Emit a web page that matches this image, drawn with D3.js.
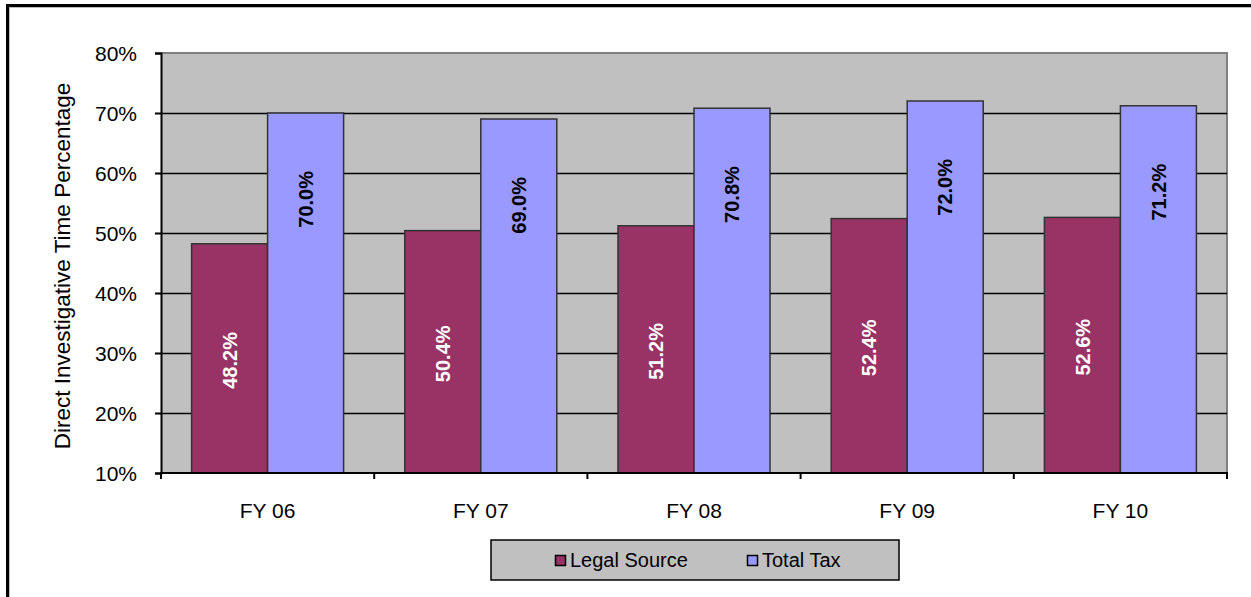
<!DOCTYPE html>
<html>
<head>
<meta charset="utf-8">
<script src="https://cdn.jsdelivr.net/npm/d3@7"></script>
<style>
  html, body { margin: 0; padding: 0; background: #fff; }
  svg { display: block; }
  text { font-family: "Liberation Sans", Arial, sans-serif; }
</style>
</head>
<body>
<svg id="chart" width="1251" height="597"></svg>
<script>
const categories = ["FY 06", "FY 07", "FY 08", "FY 09", "FY 10"];
const seriesNames = ["Legal Source", "Total Tax"];
const legalSource = [48.2, 50.4, 51.2, 52.4, 52.6];
const totalTax = [70.0, 69.0, 70.8, 72.0, 71.2];
const yTicks = [10, 20, 30, 40, 50, 60, 70, 80];
const colors = ["#993366", "#9999FF"];
const labelColors = ["#ffffff", "#000000"];

(function () {
const seriesValues = [legalSource, totalTax];
const rows = categories.map((c, i) => ({
  cat: c,
  vals: seriesNames.map((s, j) => ({ series: s, j: j, v: seriesValues[j][i] }))
}));

const svg = d3.select("#chart");

// outer frame
svg.append("rect").attr("x", 7.5).attr("y", 5.5).attr("width", 1400).attr("height", 800)
  .attr("fill", "#fff").attr("stroke", "#000").attr("stroke-width", 3);
svg.append("rect").attr("x", 9.5).attr("y", 7.5).attr("width", 1400).attr("height", 800)
  .attr("fill", "none").attr("stroke", "#bbb").attr("stroke-width", 1);

const pl = 161, pr = 1227, pt = 53, pb = 473;

const x0 = d3.scaleBand().domain(categories).range([pl, pr])
  .paddingInner(0.287).paddingOuter(0.1435);
const x1 = d3.scaleBand().domain(seriesNames).range([0, x0.bandwidth()]);
const y = d3.scaleLinear().domain([10, 80]).range([pb, pt]);

// plot area
svg.append("rect").attr("x", pl).attr("y", pt).attr("width", pr - pl).attr("height", pb - pt)
  .attr("fill", "#C0C0C0");
svg.append("path")
  .attr("d", `M${pl},${pt}H${pr}V${pb}`)
  .attr("fill", "none").attr("stroke", "#808080").attr("stroke-width", 2);

// gridlines
svg.append("g").selectAll("line").data(yTicks.filter(t => t > 10 && t < 80)).join("line")
  .attr("x1", pl).attr("x2", pr)
  .attr("y1", d => Math.round(y(d)) + 0.5).attr("y2", d => Math.round(y(d)) + 0.5)
  .attr("stroke", "#000").attr("stroke-width", 1.5);

// y axis
const yAxis = d3.axisLeft(y).tickValues(yTicks).tickFormat(d => d + "%").tickSize(6).tickPadding(18);
const gy = svg.append("g").attr("transform", `translate(${pl},0)`).call(yAxis);
gy.select(".domain").attr("stroke", "#000").attr("stroke-width", 2);
gy.selectAll(".tick line").attr("stroke", "#000").attr("stroke-width", 2);
gy.selectAll(".tick text").attr("font-size", 21).attr("fill", "#000")
  .attr("font-family", "Liberation Sans, Arial, sans-serif").attr("dy", "0.36em");

// bars
const groups = svg.append("g").selectAll("g").data(rows).join("g")
  .attr("transform", d => `translate(${x0(d.cat)},0)`);
groups.selectAll("rect").data(d => d.vals).join("rect")
  .attr("x", d => x1(d.series))
  .attr("y", d => y(d.v))
  .attr("width", x1.bandwidth())
  .attr("height", d => pb - y(d.v))
  .attr("fill", d => colors[d.j])
  .attr("stroke", "#333").attr("stroke-width", 1.5);

// labels
groups.selectAll("text").data(d => d.vals).join("text")
  .attr("transform", d => {
    const cx = x1(d.series) + x1.bandwidth() / 2;
    const cy = d.j === 0 ? (y(d.v) + pb) / 2 + 2 : y(d.v) + 58;
    return `translate(${cx},${cy}) rotate(-90)`;
  })
  .attr("text-anchor", d => d.j === 0 ? "middle" : "end")
  .attr("dy", "0.36em")
  .attr("font-size", 20).attr("font-weight", "bold")
  .attr("fill", d => labelColors[d.j])
  .text(d => d.v.toFixed(1) + "%");

// x axis
const xAxis = d3.axisBottom(x0).tickSize(0).tickPadding(30);
const gx = svg.append("g").attr("transform", `translate(0,${pb})`).call(xAxis);
gx.select(".domain").remove();
gx.selectAll(".tick text").attr("font-size", 21).attr("fill", "#000")
  .attr("font-family", "Liberation Sans, Arial, sans-serif");
svg.append("line").attr("x1", pl - 1).attr("x2", pr + 1).attr("y1", pb).attr("y2", pb)
  .attr("stroke", "#000").attr("stroke-width", 2);
const boundaries = [pl].concat(categories.map(c => x0(c) + x0.bandwidth() + x0.step() * x0.paddingInner() / 2));
boundaries[boundaries.length - 1] = pr;
svg.append("g").selectAll("line").data(boundaries).join("line")
  .attr("x1", d => d).attr("x2", d => d).attr("y1", pb).attr("y2", pb + 6)
  .attr("stroke", "#000").attr("stroke-width", 2);

// y title
svg.append("text")
  .attr("transform", `translate(62,${(82 + 450) / 2}) rotate(-90)`)
  .attr("text-anchor", "middle").attr("dy", "0.36em")
  .attr("font-size", 22.5).attr("fill", "#000")
  .text("Direct Investigative Time Percentage");

// legend
const lg = svg.append("g");
lg.append("rect").attr("x", 491).attr("y", 540).attr("width", 408).attr("height", 40)
  .attr("fill", "#C0C0C0").attr("stroke", "#000").attr("stroke-width", 1.5);
const legendX = [555, 747];
seriesNames.forEach((s, i) => {
  lg.append("rect").attr("x", legendX[i] + 0.5).attr("y", 555.5).attr("width", 10).attr("height", 10)
    .attr("fill", colors[i]).attr("stroke", "#000").attr("stroke-width", 1.5);
  lg.append("text").attr("x", legendX[i] + 15).attr("y", 567)
    .attr("font-size", 20).attr("fill", "#000").text(s);
});
})();
</script>
</body>
</html>
